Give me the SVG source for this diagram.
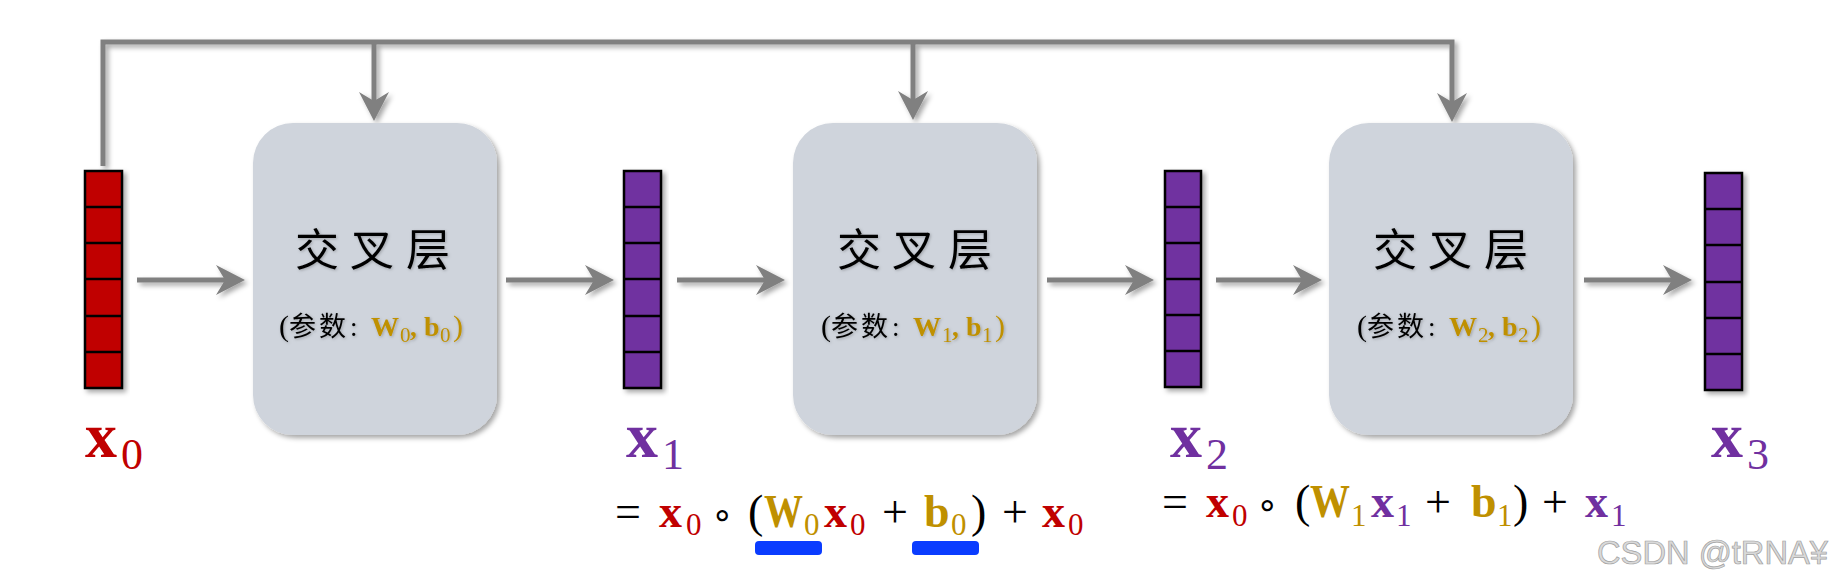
<svg xmlns="http://www.w3.org/2000/svg" width="1832" height="586" viewBox="0 0 1832 586">
<defs>
<style>
.box{fill:#cfd4dc;}
.conn{stroke:#808080;stroke-width:5;fill:none;marker-end:url(#ah);}
.vr{fill:#c00000;stroke:#000;stroke-width:2.5;}
.vp{fill:#7030a0;stroke:#000;stroke-width:2.5;}
.cell{stroke:#000;stroke-width:2.5;}
.cjk{font-family:"Noto Sans CJK SC","Noto Sans",sans-serif;fill:#000;}
.m{font-family:"Liberation Serif","DejaVu Serif",serif;}
.b{font-weight:bold;}
.red{fill:#c00000;}
.pur{fill:#7030a0;}
.gold{fill:#bf9000;}
.blk{fill:#000;}
.ul{fill:#0a3cff;}
.ring{font-family:"DejaVu Sans",sans-serif;fill:#000;}
</style>
<filter id="sh" x="-20%" y="-20%" width="140%" height="140%">
<feDropShadow dx="3" dy="3" stdDeviation="2.5" flood-color="#000" flood-opacity="0.35"/>
</filter>
<filter id="tsh" x="-20%" y="-20%" width="140%" height="140%">
<feDropShadow dx="1" dy="1" stdDeviation="1.5" flood-color="#000" flood-opacity="0.25"/>
</filter>
<marker id="ah" viewBox="0 0 29 30" refX="9" refY="15" markerWidth="29" markerHeight="30" markerUnits="userSpaceOnUse" orient="auto">
<path d="M0,0 L29,15 L0,30 L9,15 Z" fill="#808080"/>
</marker>
</defs>

<g id="connectors" filter="url(#sh)">
<path class="conn" d="M103,166 V42 H1452 V102"/>
<path class="conn" d="M374,42 V101"/>
<path class="conn" d="M913,42 V100"/>
<path class="conn" d="M137,280 H225"/>
<path class="conn" d="M506,280 H594"/>
<path class="conn" d="M677,280 H765"/>
<path class="conn" d="M1047,280 H1134"/>
<path class="conn" d="M1216,280 H1302"/>
<path class="conn" d="M1584,280 H1672"/>
</g>

<g id="x0">
<g filter="url(#sh)">
<rect class="vr" x="85" y="171" width="37" height="217"/>
</g>
<g class="cell">
<line x1="85" y1="207" x2="122" y2="207"/><line x1="85" y1="243" x2="122" y2="243"/><line x1="85" y1="279" x2="122" y2="279"/><line x1="85" y1="316" x2="122" y2="316"/><line x1="85" y1="352" x2="122" y2="352"/>
</g>
<text class="m b red" x="85" y="457" font-size="64">x</text>
<text class="m red" x="121" y="469" font-size="44">0</text>
</g>

<g id="layer0">
<rect class="box" x="253" y="123" width="244" height="312" rx="40" filter="url(#sh)"/>
<g class="cjk" font-size="44" text-anchor="middle" filter="url(#tsh)">
<text x="317" y="266">交</text><text x="372" y="266">叉</text><text x="428" y="266">层</text>
</g>
<g font-size="27" filter="url(#tsh)">
<text class="m blk" x="279" y="336" font-size="30">(</text>
<text class="cjk" x="289" y="336">参</text>
<text class="cjk" x="319" y="336">数</text>
<text class="m blk" x="350" y="336">:</text>
<text class="m b gold" x="371" y="336" font-size="28">W</text>
<text class="m gold" x="400" y="342" font-size="21">0</text>
<text class="m b gold" x="410" y="336">,</text>
<text class="m b gold" x="424" y="336" font-size="28">b</text>
<text class="m gold" x="440" y="342" font-size="21">0</text>
<text class="m gold" x="453" y="336" font-size="30">)</text>
</g>
</g>

<g id="x1">
<g filter="url(#sh)">
<rect class="vp" x="624" y="171" width="37" height="217"/>
</g>
<g class="cell">
<line x1="624" y1="207" x2="661" y2="207"/><line x1="624" y1="243" x2="661" y2="243"/><line x1="624" y1="279" x2="661" y2="279"/><line x1="624" y1="316" x2="661" y2="316"/><line x1="624" y1="352" x2="661" y2="352"/>
</g>
<text class="m b pur" x="626" y="457" font-size="64">x</text>
<text class="m pur" x="662" y="469" font-size="44">1</text>
</g>

<g id="layer1">
<rect class="box" x="793" y="123" width="244" height="312" rx="40" filter="url(#sh)"/>
<g class="cjk" font-size="44" text-anchor="middle" filter="url(#tsh)">
<text x="859" y="266">交</text><text x="914" y="266">叉</text><text x="970" y="266">层</text>
</g>
<g font-size="27" filter="url(#tsh)">
<text class="m blk" x="821" y="336" font-size="30">(</text>
<text class="cjk" x="831" y="336">参</text>
<text class="cjk" x="861" y="336">数</text>
<text class="m blk" x="892" y="336">:</text>
<text class="m b gold" x="913" y="336" font-size="28">W</text>
<text class="m gold" x="942" y="342" font-size="21">1</text>
<text class="m b gold" x="952" y="336">,</text>
<text class="m b gold" x="966" y="336" font-size="28">b</text>
<text class="m gold" x="982" y="342" font-size="21">1</text>
<text class="m gold" x="995" y="336" font-size="30">)</text>
</g>
</g>

<g id="x2">
<g filter="url(#sh)">
<rect class="vp" x="1165" y="171" width="36" height="216"/>
</g>
<g class="cell">
<line x1="1165" y1="207" x2="1201" y2="207"/><line x1="1165" y1="243" x2="1201" y2="243"/><line x1="1165" y1="279" x2="1201" y2="279"/><line x1="1165" y1="315" x2="1201" y2="315"/><line x1="1165" y1="351" x2="1201" y2="351"/>
</g>
<text class="m b pur" x="1170" y="457" font-size="64">x</text>
<text class="m pur" x="1206" y="469" font-size="44">2</text>
</g>

<g id="layer2">
<rect class="box" x="1329" y="123" width="244" height="312" rx="40" filter="url(#sh)"/>
<g class="cjk" font-size="44" text-anchor="middle" filter="url(#tsh)">
<text x="1395" y="266">交</text><text x="1450" y="266">叉</text><text x="1506" y="266">层</text>
</g>
<g font-size="27" filter="url(#tsh)">
<text class="m blk" x="1357" y="336" font-size="30">(</text>
<text class="cjk" x="1367" y="336">参</text>
<text class="cjk" x="1397" y="336">数</text>
<text class="m blk" x="1428" y="336">:</text>
<text class="m b gold" x="1449" y="336" font-size="28">W</text>
<text class="m gold" x="1478" y="342" font-size="21">2</text>
<text class="m b gold" x="1488" y="336">,</text>
<text class="m b gold" x="1502" y="336" font-size="28">b</text>
<text class="m gold" x="1518" y="342" font-size="21">2</text>
<text class="m gold" x="1531" y="336" font-size="30">)</text>
</g>
</g>

<g id="x3">
<g filter="url(#sh)">
<rect class="vp" x="1705" y="173" width="37" height="217"/>
</g>
<g class="cell">
<line x1="1705" y1="209" x2="1742" y2="209"/><line x1="1705" y1="245" x2="1742" y2="245"/><line x1="1705" y1="282" x2="1742" y2="282"/><line x1="1705" y1="318" x2="1742" y2="318"/><line x1="1705" y1="354" x2="1742" y2="354"/>
</g>
<text class="m b pur" x="1711" y="457" font-size="64">x</text>
<text class="m pur" x="1747" y="469" font-size="44">3</text>
</g>

<g id="formula1" class="m" font-size="46">
<text class="blk" x="615" y="527">=</text>
<text class="b red" x="659" y="527">x</text>
<text class="red" x="686" y="535" font-size="31">0</text>
<text class="ring" x="711" y="527" font-size="36">∘</text>
<text class="blk" x="748" y="527">(</text>
<text class="b gold" x="764" y="527" textLength="39" lengthAdjust="spacingAndGlyphs">W</text>
<text class="gold" x="804" y="535" font-size="31">0</text>
<text class="b red" x="824" y="527">x</text>
<text class="red" x="850" y="535" font-size="31">0</text>
<text class="blk" x="882" y="527">+</text>
<text class="b gold" x="924" y="527">b</text>
<text class="gold" x="951" y="535" font-size="31">0</text>
<text class="blk" x="971" y="527">)</text>
<text class="blk" x="1002" y="527">+</text>
<text class="b red" x="1042" y="527">x</text>
<text class="red" x="1068" y="535" font-size="31">0</text>
<rect class="ul" x="755" y="541" width="67" height="14" rx="4"/>
<rect class="ul" x="912" y="541" width="67" height="14" rx="4"/>
</g>

<g id="formula2" class="m" font-size="46">
<text class="blk" x="1162" y="517">=</text>
<text class="b red" x="1206" y="517">x</text>
<text class="red" x="1232" y="526" font-size="31">0</text>
<text class="ring" x="1256" y="517" font-size="36">∘</text>
<text class="blk" x="1295" y="517">(</text>
<text class="b gold" x="1310" y="517" textLength="40" lengthAdjust="spacingAndGlyphs">W</text>
<text class="gold" x="1351" y="526" font-size="31">1</text>
<text class="b pur" x="1371" y="517">x</text>
<text class="pur" x="1396" y="526" font-size="31">1</text>
<text class="blk" x="1425" y="517">+</text>
<text class="b gold" x="1471" y="517">b</text>
<text class="gold" x="1497" y="526" font-size="31">1</text>
<text class="blk" x="1513" y="517">)</text>
<text class="blk" x="1542" y="517">+</text>
<text class="b pur" x="1585" y="517">x</text>
<text class="pur" x="1611" y="526" font-size="31">1</text>
</g>

<text id="watermark" x="1597" y="564" font-family="Liberation Sans, Arial, sans-serif" font-size="33" textLength="231" lengthAdjust="spacingAndGlyphs" fill="#d9d9d9" stroke="#a0a0a0" stroke-width="0.7">CSDN @tRNA¥</text>
</svg>
